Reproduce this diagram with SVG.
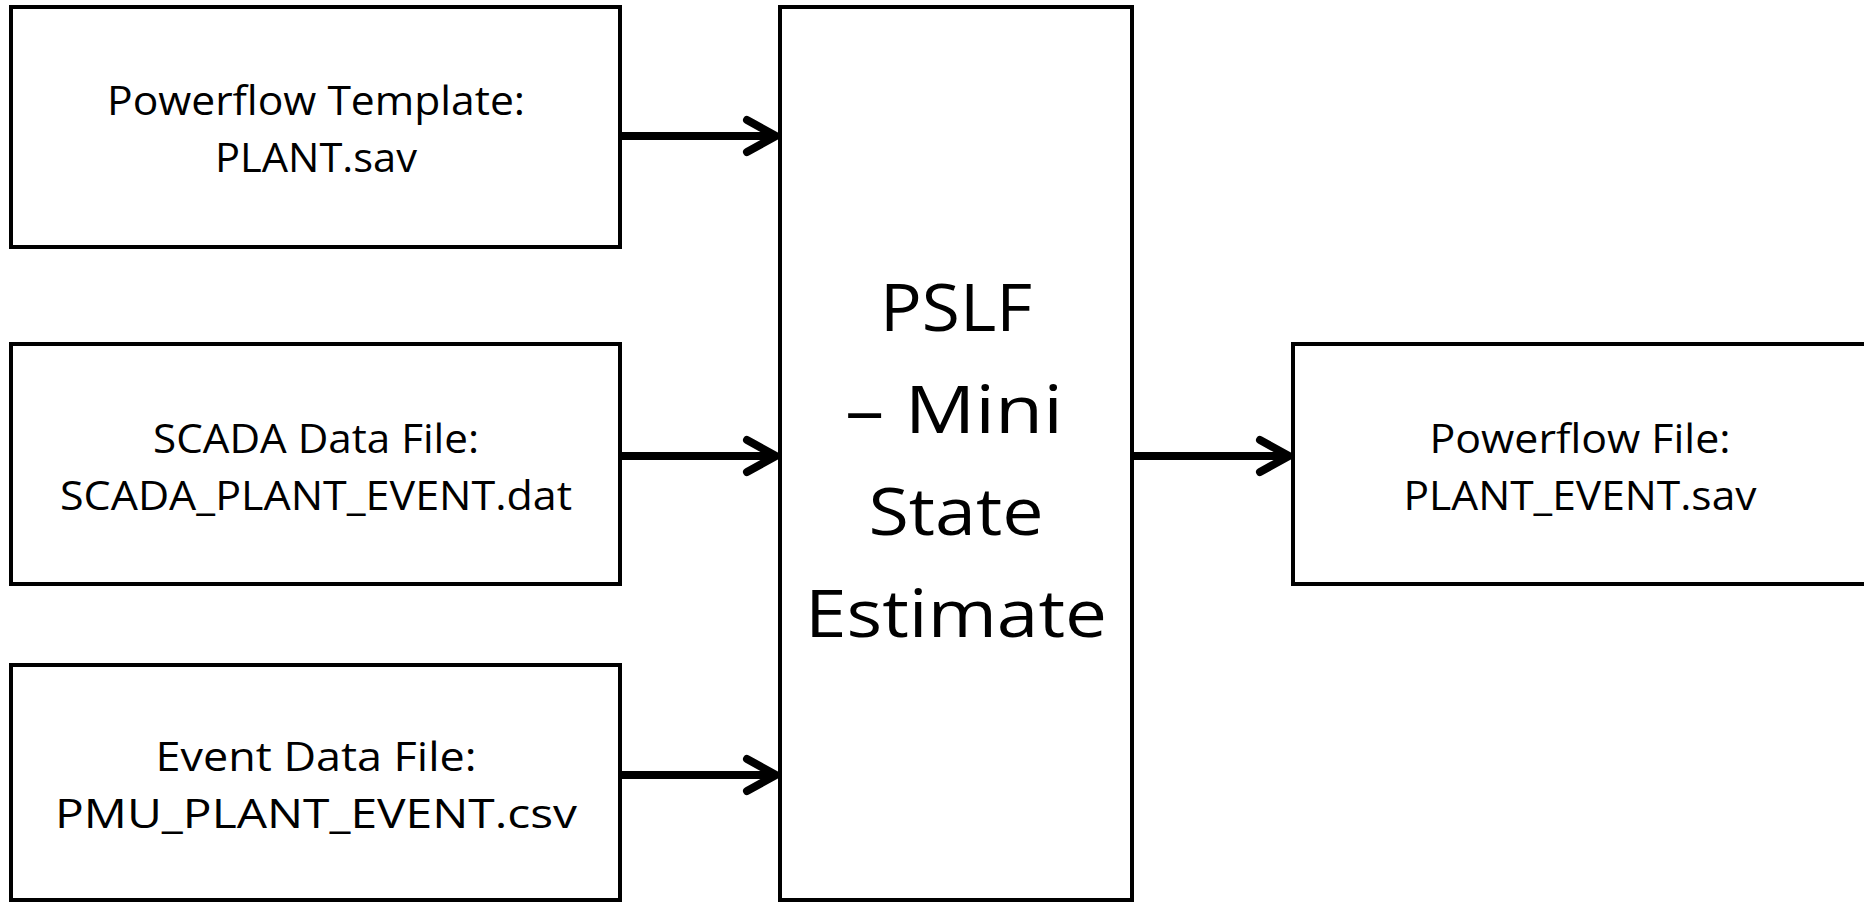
<svg xmlns="http://www.w3.org/2000/svg" width="1864" height="903" viewBox="0 0 1864 903">
<style>
.box{fill:#ffffff;stroke:#000000;stroke-width:4}
.t{font-family:"Open Sans","Noto Sans","Liberation Sans",sans-serif;font-size:40px;fill:#000000;text-anchor:middle}
.big{font-family:"Open Sans","Noto Sans","Liberation Sans",sans-serif;font-size:66px;fill:#000000;text-anchor:middle}
.conn{stroke:#000000;stroke-width:8;fill:none;marker-end:url(#chev)}
</style>
<defs>
<marker id="chev" markerUnits="userSpaceOnUse" markerWidth="60" markerHeight="60" viewBox="-40 -30 60 60" refX="0" refY="0" orient="auto" overflow="visible">
<path d="M-29,-16 L0,0 L-29,16" fill="none" stroke="#000000" stroke-width="8" stroke-linecap="round" stroke-linejoin="round"/>
</marker>
</defs>
<rect width="1864" height="903" fill="#ffffff"/>
<g id="connectors">
<line class="conn" x1="621" y1="136" x2="776" y2="136"/>
<line class="conn" x1="621" y1="456" x2="776" y2="456"/>
<line class="conn" x1="621" y1="775" x2="776" y2="775"/>
<line class="conn" x1="1133" y1="456" x2="1289" y2="456"/>
</g>
<g id="node-template">
<rect class="box" x="11" y="7" width="609" height="240"/>
<text class="t" x="316" y="115" textLength="418" lengthAdjust="spacingAndGlyphs">Powerflow Template:</text>
<text class="t" x="316" y="172" textLength="202" lengthAdjust="spacingAndGlyphs">PLANT.sav</text>
</g>
<g id="node-scada">
<rect class="box" x="11" y="344" width="609" height="240"/>
<text class="t" x="316" y="453" textLength="326" lengthAdjust="spacingAndGlyphs">SCADA Data File:</text>
<text class="t" x="316" y="510" textLength="512" lengthAdjust="spacingAndGlyphs">SCADA_PLANT_EVENT.dat</text>
</g>
<g id="node-event">
<rect class="box" x="11" y="665" width="609" height="235"/>
<text class="t" x="316" y="771" textLength="321" lengthAdjust="spacingAndGlyphs">Event Data File:</text>
<text class="t" x="316" y="828" textLength="522" lengthAdjust="spacingAndGlyphs">PMU_PLANT_EVENT.csv</text>
</g>
<g id="node-pslf">
<rect class="box" x="780" y="7" width="352" height="893"/>
<text class="big" x="956" y="331" textLength="152" lengthAdjust="spacingAndGlyphs">PSLF</text>
<text class="big" x="954" y="433" textLength="218" lengthAdjust="spacingAndGlyphs">– Mini</text>
<text class="big" x="956" y="535" textLength="175" lengthAdjust="spacingAndGlyphs">State</text>
<text class="big" x="956" y="637" textLength="302" lengthAdjust="spacingAndGlyphs">Estimate</text>
</g>
<g id="node-output">
<rect class="box" x="1293" y="344" width="580" height="240"/>
<text class="t" x="1580" y="453" textLength="301" lengthAdjust="spacingAndGlyphs">Powerflow File:</text>
<text class="t" x="1580" y="510" textLength="353" lengthAdjust="spacingAndGlyphs">PLANT_EVENT.sav</text>
</g>
</svg>
